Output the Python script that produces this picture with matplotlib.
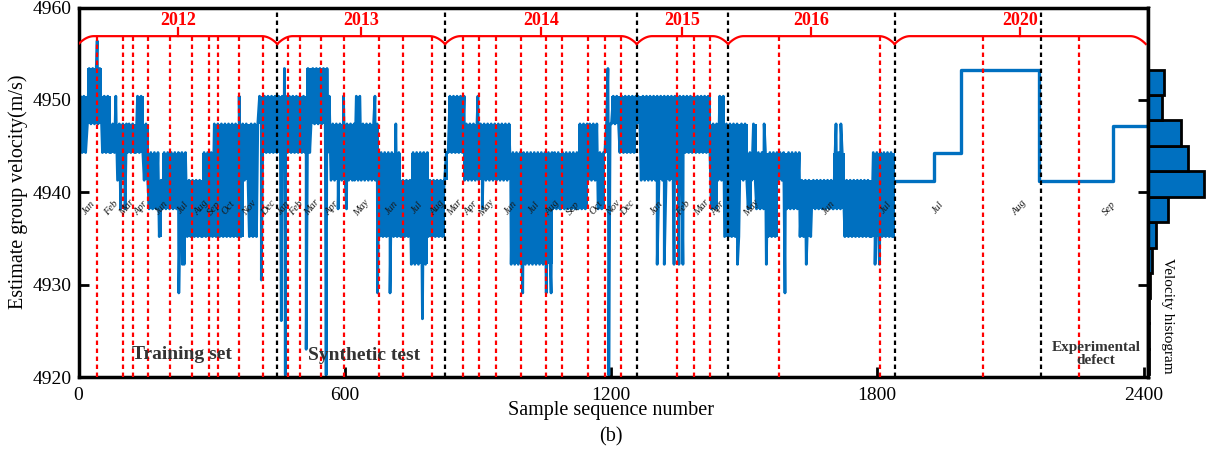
import numpy as np
import matplotlib.pyplot as plt

plt.rcParams['font.family'] = ['Liberation Serif', 'DejaVu Serif']
plt.rcParams['path.simplify'] = False

# 2012-2016 trace: band the velocity jumps inside, per stretch of samples (m/s)
seg_x = [0, 20, 54, 73, 88, 110, 129, 148, 159, 182, 189, 245, 279, 302, 374, 385, 404,
         415, 513, 524, 561, 569, 622, 637, 678, 727, 750, 788, 825, 833, 870, 975, 1069,
         1087, 1126, 1148, 1171, 1186, 1201, 1220, 1257, 1268, 1351, 1426, 1441, 1456, 1490,
         1509, 1517, 1528, 1554, 1577, 1596, 1626, 1652, 1701, 1727, 1787, 1839]
seg_lo = [4944.3, 4947.4, 4944.3, 4944.3, 4941.3, 4944.3, 4944.3, 4941.3, 4938.2, 4935.2,
          4938.2, 4935.2, 4935.2, 4935.2, 4941.3, 4935.2, 4947.4, 4944.3, 4944.3, 4947.4,
          4944.3, 4941.3, 4941.3, 4941.3, 4935.2, 4935.2, 4932.2, 4935.2, 4941.3, 4944.3,
          4941.3, 4932.2, 4938.2, 4938.2, 4938.2, 4941.3, 4938.2, 4944.3, 4947.4, 4944.3,
          4947.4, 4941.3, 4944.3, 4938.2, 4941.3, 4935.2, 4941.3, 4938.2, 4941.3, 4938.2,
          4935.2, 4941.3, 4938.2, 4935.2, 4938.2, 4938.2, 4935.2, 4935.2]
seg_hi = [4950.4, 4953.4, 4950.4, 4947.4, 4947.4, 4947.4, 4950.4, 4947.4, 4944.3, 4941.3,
          4944.3, 4941.3, 4944.3, 4947.4, 4947.4, 4947.4, 4950.4, 4950.4, 4953.4, 4953.4,
          4950.4, 4947.4, 4950.4, 4947.4, 4944.3, 4941.3, 4944.3, 4941.3, 4944.3, 4950.4,
          4947.4, 4944.3, 4944.3, 4944.3, 4947.4, 4947.4, 4944.3, 4947.4, 4950.4, 4950.4,
          4950.4, 4950.4, 4950.4, 4947.4, 4950.4, 4947.4, 4947.4, 4944.3, 4947.4, 4944.3,
          4944.3, 4944.3, 4944.3, 4941.3, 4941.3, 4944.3, 4941.3, 4944.3]
# single spikes
spike_x = [42, 84, 95, 105, 226, 234, 238, 362, 412, 457, 464, 466, 513, 558, 585, 597,
           604, 668, 674, 702, 715, 775, 900, 910, 1001, 1054, 1065, 1193, 1195, 1304,
           1320, 1342, 1353, 1362, 1485, 1545, 1550, 1592, 1640, 1707, 1718, 1795, 1805]
spike_v = [4956.4, 4950.4, 4938.2, 4938.2, 4929.1, 4932.2, 4932.2, 4950.4, 4930.5, 4926.1,
           4953.4, 4920.2, 4923.0, 4920.2, 4938.2, 4950.4, 4938.2, 4950.4, 4929.1, 4929.1,
           4947.4, 4926.3, 4950.4, 4938.2, 4929.1, 4929.1, 4929.1, 4953.4, 4920.2, 4932.2,
           4932.2, 4932.2, 4932.2, 4932.2, 4932.2, 4947.4, 4932.2, 4929.1, 4932.2, 4947.4,
           4947.4, 4932.2, 4932.2]
# 2020 part
step_x = [1839, 1927, 1989, 2165, 2332, 2410]
step_v = [4941.2, 4944.2, 4953.2, 4941.2, 4947.2, 4947.2]

month_lines = [42, 101, 122, 156, 207, 256, 295, 314, 361, 415, 472, 500, 547, 599, 678,
               732, 797, 867, 903, 940, 997, 1054, 1089, 1147, 1186, 1223, 1348, 1386,
               1424, 1578, 1807, 2038, 2255]
year_lines = [448, 826, 1258, 1464, 1839, 2169]
month_names = ['Jan', 'Feb', 'Mar', 'Apr', 'Jun', 'Jul', 'Aug', 'Sep', 'Oct', 'Nov', 'Dec',
               'Jan', 'Feb', 'Mar', 'Apr', 'May', 'Jun', 'Jul', 'Aug',
               'Mar', 'Apr', 'May', 'Jun', 'Jul', 'Aug', 'Sep', 'Oct', 'Nov', 'Dec',
               'Jan', 'Feb', 'Mar', 'Apr', 'May', 'Jun', 'Jul', 'Jul', 'Aug', 'Sep']
month_x = [23, 74, 110, 142, 187, 236, 277, 306, 338, 385, 428, 462, 491, 525, 572, 637,
           705, 763, 808, 849, 885, 919, 975, 1027, 1069, 1114, 1166, 1205, 1238, 1304,
           1364, 1405, 1441, 1517, 1691, 1819, 1936, 2121, 2323]
years = ['2012', '2013', '2014', '2015', '2016', '2020']
year_edges = [0, 448, 826, 1258, 1464, 1839, 2405]

hist_edges = [4920.3, 4923.05, 4925.8, 4928.5, 4931.27, 4934.0, 4936.77, 4939.5,
              4942.27, 4945.0, 4947.77, 4950.5, 4953.24]
hist_counts = [8, 8, 12, 20, 40, 80, 200, 560, 400, 330, 140, 160]

blue = '#0070c0'

# zig-zag through each band so the fast jumps fill it in
tx, tv = [], []
for i in range(len(seg_lo)):
    for j, s in enumerate(range(seg_x[i], seg_x[i + 1], 4)):
        tx.append(s)
        tv.append(seg_hi[i] if j % 2 else seg_lo[i])
tx = np.array(tx + spike_x)
tv = np.array(tv + spike_v)
order = np.argsort(tx, kind='stable')

fig = plt.figure(figsize=(12.08, 4.5), dpi=100)
ax = fig.add_axes([0.065, 0.1622, 0.8853, 0.8211])

for i in range(len(seg_lo)):
    ax.fill_between([seg_x[i], seg_x[i + 1]], seg_lo[i], seg_hi[i], color=blue, lw=0,
                    zorder=2)
ax.plot(tx[order], tv[order], color=blue, lw=2.0, zorder=2)
ax.step(step_x, step_v, where='post', color=blue, lw=2.4, zorder=2)

for x in month_lines:
    ax.plot([x, x], [4920, 4956.8], color='red', lw=1.6, ls=(0, (2, 1.6)), zorder=3)
for x in year_lines:
    ax.axvline(x, color='black', lw=1.6, ls=(0, (2, 1.6)), zorder=3)

for name, x in zip(month_names, month_x):
    ax.text(x, 4938.3, name, rotation=50, fontsize=7.5, style='italic', color='#1a1a1a',
            ha='center', va='center', zorder=4)

# curly braces over each year
base, drop, r = 4956.9, 0.85, 35
s = np.linspace(0, 1, 20)
for yr, a, b in zip(years, year_edges[:-1], year_edges[1:]):
    bx = np.concatenate([a + r * (1 - s[::-1]), b - r + r * s])
    by = np.concatenate([base - drop * s[::-1] ** 2, base - drop * s ** 2])
    ax.plot(bx, by, color='red', lw=1.6, zorder=3)
    c = (a + b) / 2
    ax.plot([c, c], [base, 4957.75], color='red', lw=1.6, zorder=3)
    ax.text(c, 4958.6, yr, color='red', fontsize=13, fontweight='bold',
            ha='center', va='center')

ax.text(234, 4922.4, 'Training set', fontsize=14, fontweight='bold', color='#333333',
        ha='center', va='center', zorder=5)
ax.text(644, 4922.3, 'Synthetic test', fontsize=14, fontweight='bold', color='#333333',
        ha='center', va='center', zorder=5)
ax.text(2293, 4922.5, 'Experimental\ndefect', fontsize=11, fontweight='bold',
        color='#333333', ha='center', va='center', linespacing=1.0, zorder=5)

ax.set_xlim(0, 2410)
ax.set_ylim(4920, 4960)
ax.set_xticks([0, 600, 1200, 1800, 2400])
ax.set_yticks([4920, 4930, 4940, 4950, 4960])
for sp in ax.spines.values():
    sp.set_linewidth(2.5)
ax.tick_params(direction='in', length=7, width=2, labelsize=14, right=True)
ax.tick_params(axis='x', pad=7)
ax.tick_params(axis='y', pad=5)

fig.text(0.506, 1 - 411 / 450, 'Sample sequence number', fontsize=14.5,
         ha='center', va='center')
fig.text(0.506, 1 - 437 / 450, '(b)', fontsize=14.5, ha='center', va='center')
fig.text(18 / 1208, 1 - 192 / 450, 'Estimate group velocity(m/s)', fontsize=14.5,
         rotation=90, ha='center', va='center')

# velocity histogram on the right
hx = fig.add_axes([0.9503, 0.1622, 0.0497, 0.8211])
hx.barh(hist_edges[:-1], hist_counts, height=np.diff(hist_edges), align='edge',
        color=blue, edgecolor='black', linewidth=2)
hx.set_ylim(4920, 4960)
hx.set_xlim(0, 600)
for k in ['top', 'right', 'bottom']:
    hx.spines[k].set_visible(False)
hx.spines['left'].set_linewidth(2.5)
hx.set_xticks([])
hx.set_yticks([])
hx.text(0.33, 4926.6, 'Velocity histogram', rotation=270, fontsize=11,
        transform=hx.get_yaxis_transform(), ha='center', va='center')

fig.savefig('out.png', dpi=100)
